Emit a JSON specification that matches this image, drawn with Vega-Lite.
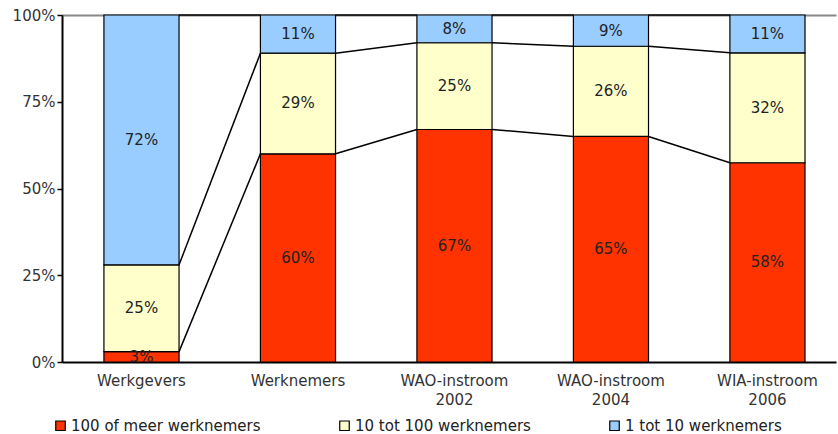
{
  "$schema": "https://vega.github.io/schema/vega-lite/v6.json",
  "width": 774,
  "height": 347,
  "autosize": {"type": "none"},
  "padding": {"left": 62, "top": 15, "right": 2, "bottom": 72},
  "background": "white",
  "config": {
    "view": {"stroke": null},
    "font": "DejaVu Sans"
  },
  "datasets": {
    "shares": [
      {"cat": "Werkgevers", "series": "100 of meer werknemers", "ord": 1, "value": 3},
      {"cat": "Werkgevers", "series": "10 tot 100 werknemers", "ord": 2, "value": 25},
      {"cat": "Werkgevers", "series": "1 tot 10 werknemers", "ord": 3, "value": 72},
      {"cat": "Werknemers", "series": "100 of meer werknemers", "ord": 1, "value": 60},
      {"cat": "Werknemers", "series": "10 tot 100 werknemers", "ord": 2, "value": 29},
      {"cat": "Werknemers", "series": "1 tot 10 werknemers", "ord": 3, "value": 11},
      {"cat": "WAO-instroom 2002", "series": "100 of meer werknemers", "ord": 1, "value": 67},
      {"cat": "WAO-instroom 2002", "series": "10 tot 100 werknemers", "ord": 2, "value": 25},
      {"cat": "WAO-instroom 2002", "series": "1 tot 10 werknemers", "ord": 3, "value": 8},
      {"cat": "WAO-instroom 2004", "series": "100 of meer werknemers", "ord": 1, "value": 65},
      {"cat": "WAO-instroom 2004", "series": "10 tot 100 werknemers", "ord": 2, "value": 26},
      {"cat": "WAO-instroom 2004", "series": "1 tot 10 werknemers", "ord": 3, "value": 9},
      {"cat": "WIA-instroom 2006", "series": "100 of meer werknemers", "ord": 1, "value": 58},
      {"cat": "WIA-instroom 2006", "series": "10 tot 100 werknemers", "ord": 2, "value": 32},
      {"cat": "WIA-instroom 2006", "series": "1 tot 10 werknemers", "ord": 3, "value": 11}
    ],
    "links": [
      {"from": "Werkgevers", "to": "Werknemers", "start": 0.03, "end": 0.60},
      {"from": "Werkgevers", "to": "Werknemers", "start": 0.28, "end": 0.89},
      {"from": "Werkgevers", "to": "Werknemers", "start": 1, "end": 1},
      {"from": "Werknemers", "to": "WAO-instroom 2002", "start": 0.60, "end": 0.67},
      {"from": "Werknemers", "to": "WAO-instroom 2002", "start": 0.89, "end": 0.92},
      {"from": "Werknemers", "to": "WAO-instroom 2002", "start": 1, "end": 1},
      {"from": "WAO-instroom 2002", "to": "WAO-instroom 2004", "start": 0.67, "end": 0.65},
      {"from": "WAO-instroom 2002", "to": "WAO-instroom 2004", "start": 0.92, "end": 0.91},
      {"from": "WAO-instroom 2002", "to": "WAO-instroom 2004", "start": 1, "end": 1},
      {"from": "WAO-instroom 2004", "to": "WIA-instroom 2006", "start": 0.65, "end": 0.574},
      {"from": "WAO-instroom 2004", "to": "WIA-instroom 2006", "start": 0.91, "end": 0.891},
      {"from": "WAO-instroom 2004", "to": "WIA-instroom 2006", "start": 1, "end": 1}
    ]
  },
  "resolve": {"scale": {"x": "shared", "y": "shared"}},
  "layer": [
    {
      "data": {"name": "shares"},
      "mark": {"type": "bar", "stroke": "black", "strokeWidth": 1.2},
      "encoding": {
        "x": {
          "field": "cat", "type": "nominal", "sort": null,
          "scale": {
            "domain": ["Werkgevers", "Werknemers", "WAO-instroom 2002", "WAO-instroom 2004", "WIA-instroom 2006"],
            "paddingInner": 0.52, "paddingOuter": 0.233, "align": 0.575
          },
          "axis": {
            "title": null, "labelAngle": 0, "ticks": false, "domainColor": "black", "domainWidth": 2,
            "labelFontSize": 15, "labelColor": "#333", "labelPadding": 11, "labelLineHeight": 19,
            "labelExpr": "split(datum.label, ' ')"
          }
        },
        "y": {
          "field": "value", "type": "quantitative", "stack": "normalize",
          "scale": {"domain": [0, 1], "nice": false},
          "axis": {
            "title": null, "values": [0, 0.25, 0.5, 0.75, 1], "format": ".0%",
            "labelFontSize": 15, "labelColor": "#333", "domainColor": "black", "domainWidth": 2,
            "tickColor": "black", "tickSize": 5, "tickWidth": 1.5, "labelPadding": 2,
            "grid": true, "gridColor": "#888", "gridWidth": 2,
            "gridOpacity": {"condition": {"test": "datum.value === 1", "value": 1}, "value": 0}
          }
        },
        "color": {
          "field": "series", "type": "nominal",
          "scale": {
            "domain": ["100 of meer werknemers", "10 tot 100 werknemers", "1 tot 10 werknemers"],
            "range": ["#FF3300", "#FFFFCC", "#99CCFF"]
          },
          "legend": {
            "title": null, "orient": "none", "direction": "horizontal", "legendX": -9, "legendY": 403,
            "symbolType": "square", "symbolSize": 90, "symbolStrokeColor": "black", "symbolStrokeWidth": 1.2,
            "labelFontSize": 15, "labelColor": "#222", "labelLimit": 400, "columnPadding": 76, "labelOffset": 3
          }
        },
        "order": {"field": "ord", "type": "quantitative"}
      }
    },
    {
      "data": {"name": "shares"},
      "mark": {"type": "text", "fontSize": 15, "color": "#222", "text": {"expr": "datum.value + '%'"}},
      "encoding": {
        "x": {"field": "cat", "type": "nominal", "sort": null},
        "y": {"field": "value", "type": "quantitative", "stack": "normalize", "bandPosition": 0.5},
        "detail": {"field": "series", "type": "nominal"},
        "order": {"field": "ord", "type": "quantitative"}
      }
    },
    {
      "data": {"name": "links"},
      "mark": {"type": "rule", "color": "black", "strokeWidth": 1.5, "xOffset": {"expr": "bandwidth('x') / 2"}, "x2Offset": {"expr": "-bandwidth('x') / 2"}},
      "encoding": {
        "x": {"field": "from", "type": "nominal", "sort": null},
        "x2": {"field": "to"},
        "y": {"field": "start", "type": "quantitative"},
        "y2": {"field": "end"}
      }
    }
  ]
}
